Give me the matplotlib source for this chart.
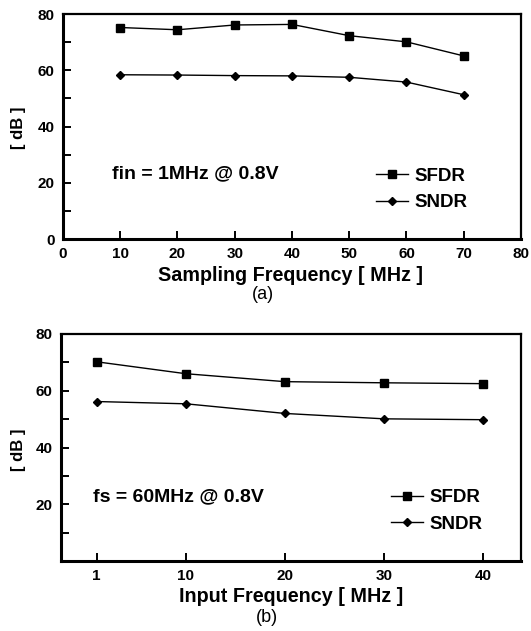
import matplotlib.pyplot as plt
from matplotlib.ticker import MultipleLocator

plt.rcParams["font.family"] = ["Liberation Sans", "DejaVu Sans"]
plt.rcParams["font.weight"] = "bold"

# (a) sweep of sampling frequency, fin = 1 MHz
fs_mhz = [10, 20, 30, 40, 50, 60, 70]
sfdr_a = [75.2, 74.4, 76.1, 76.3, 72.3, 70.1, 65.1]
sndr_a = [58.4, 58.3, 58.1, 58.0, 57.5, 55.8, 51.3]

# (b) sweep of input frequency, fs = 60 MHz
fin_mhz = [1, 10, 20, 30, 40]
sfdr_b = [70.2, 66.0, 63.2, 62.8, 62.5]
sndr_b = [56.2, 55.4, 52.0, 50.1, 49.8]

fig = plt.figure(figsize=(5.31, 6.31), dpi=100)
ax1 = fig.add_axes([0.1186, 0.6212, 0.8625, 0.3566])
ax2 = fig.add_axes([0.1149, 0.1109, 0.8661, 0.3598])


def style_axes(ax):
    for side in ["left", "bottom"]:
        ax.spines[side].set_linewidth(2.2)
    for side in ["top", "right"]:
        ax.spines[side].set_linewidth(1.6)
    ax.tick_params(which="both", direction="in", length=5.5, width=1.4,
                   labelsize=11, pad=6)
    for lbl in ax.get_xticklabels() + ax.get_yticklabels():
        lbl.set_fontweight("bold")


def draw_series(ax, x, sfdr, sndr):
    ax.plot(x, sfdr, color="black", lw=1.0, marker="s", ms=5.5, label="SFDR")
    ax.plot(x, sndr, color="black", lw=1.0, marker="D", ms=4, label="SNDR")


def add_legend(ax, x0, yc):
    ax.legend(loc="center left", bbox_to_anchor=(x0, yc), frameon=False,
              borderpad=0, borderaxespad=0, handlelength=1.7,
              handletextpad=0.35, labelspacing=0.5,
              prop={"weight": "bold", "size": 13.5})


# top panel
draw_series(ax1, fs_mhz, sfdr_a, sndr_a)
ax1.set_xlim(0, 80)
ax1.set_ylim(0, 80)
ax1.set_xticks(range(0, 81, 10))
ax1.set_yticks(range(0, 81, 20))
ax1.yaxis.set_minor_locator(MultipleLocator(10))
style_axes(ax1)
ax1.text(0.108, 0.29, "fin = 1MHz @ 0.8V", transform=ax1.transAxes,
         fontsize=14, fontweight="bold", va="center")
add_legend(ax1, 0.683, 0.22)

# bottom panel
draw_series(ax2, fin_mhz, sfdr_b, sndr_b)
ax2.set_xlim(-2.6, 43.8)
ax2.set_ylim(0, 80)
ax2.set_xticks(fin_mhz)
ax2.set_yticks(range(20, 81, 20))
ax2.set_yticks([10, 30, 50, 70], minor=True)
style_axes(ax2)
ax2.text(0.069, 0.282, "fs = 60MHz @ 0.8V", transform=ax2.transAxes,
         fontsize=14, fontweight="bold", va="center")
add_legend(ax2, 0.717, 0.22)

# axis titles and panel captions
fig.text(290 / 531, 1 - 275 / 631, "Sampling Frequency [ MHz ]", ha="center",
         va="center", fontsize=14.2, fontweight="bold")
fig.text(263 / 531, 1 - 294 / 631, "(a)", ha="center", va="center",
         fontsize=13, fontweight="normal")
fig.text(291 / 531, 1 - 597 / 631, "Input Frequency [ MHz ]", ha="center",
         va="center", fontsize=14.2, fontweight="bold")
fig.text(267 / 531, 1 - 618 / 631, "(b)", ha="center", va="center",
         fontsize=13, fontweight="normal")
fig.text(18 / 531, 1 - 128 / 631, "[ dB ]", rotation=90, ha="center",
         va="center", fontsize=12, fontweight="bold")
fig.text(18 / 531, 1 - 450 / 631, "[ dB ]", rotation=90, ha="center",
         va="center", fontsize=12, fontweight="bold")

fig.savefig("out.png", dpi=100)
